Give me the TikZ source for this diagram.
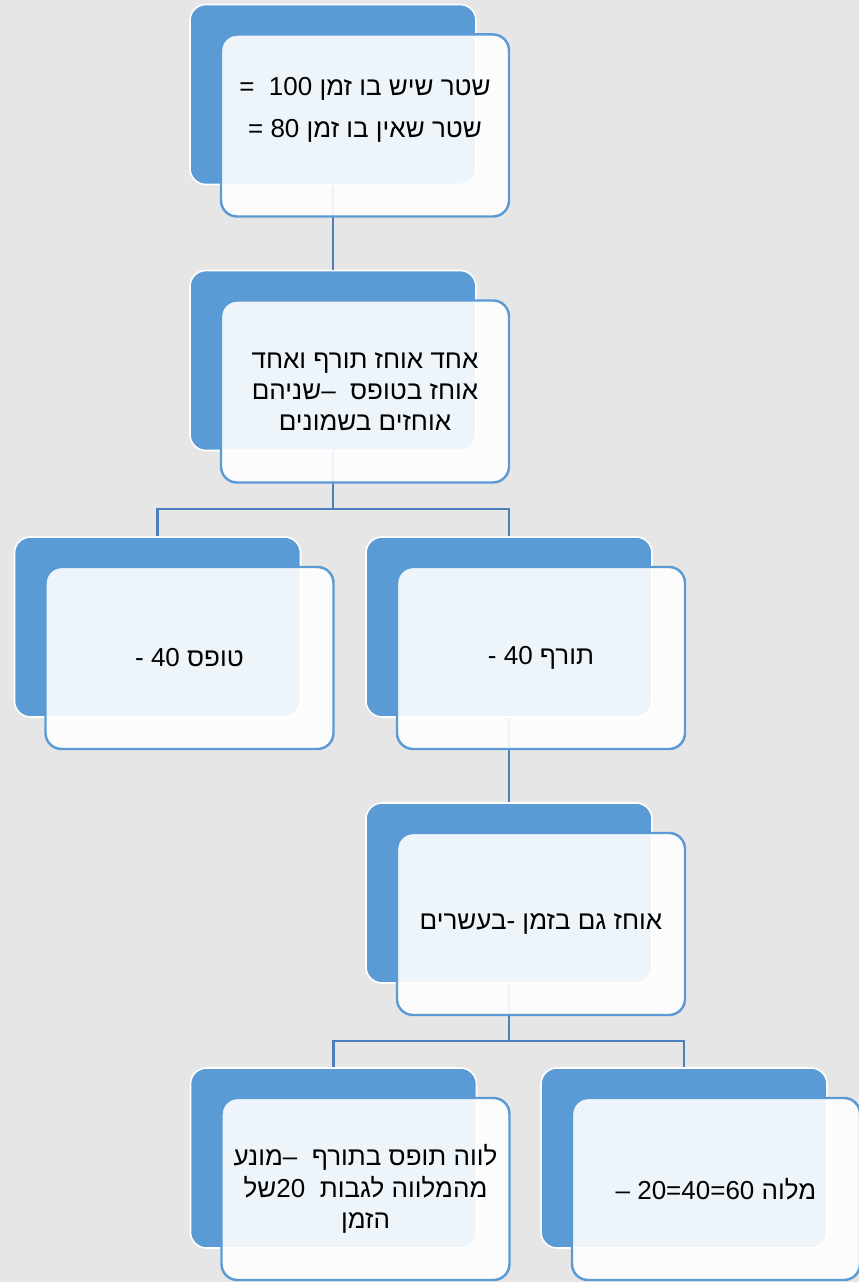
\documentclass[tikz,border=0pt]{standalone}
\usepackage{fontspec}
\newfontfamily\hebfont[Script=Hebrew]{Liberation Sans}
\TeXXeTstate=1
\usetikzlibrary{calc,positioning}
\definecolor{bgGray}{RGB}{231,230,230}
\definecolor{boxBlue}{RGB}{91,155,213}
\definecolor{lineBlue}{RGB}{76,127,187}
\tikzstyle{backbox} = [rectangle, rounded corners=0.32cm, minimum width=5.72cm,
minimum height=3.6cm, fill=boxBlue, draw=white, line width=0.9pt]
\tikzstyle{frontbox} = [rectangle, rounded corners=0.32cm, minimum width=5.76cm,
minimum height=3.64cm, fill=white, fill opacity=0.9, text opacity=1,
draw=boxBlue, line width=1.4pt, align=center,
font=\hebfont\fontsize{14.8}{17.8}\selectfont]
\tikzstyle{conn} = [line width=1.5pt, draw=lineBlue]

\begin{document}
\begin{tikzpicture}
            \fill[bgGray] (0,0) rectangle (17.18,25.64);
            \useasboundingbox (0,0) rectangle (17.18,25.64);
            % back boxes
            \node[backbox] (b1) at (6.66,23.75) {};
            \node[backbox] (b2) at (6.66,18.43) {};
            \node[backbox] (b3l) at (3.15,13.10) {};
            \node[backbox] (b3r) at (10.18,13.10) {};
            \node[backbox] (b4) at (10.18,7.78) {};
            \node[backbox] (b5l) at (6.67,2.48) {};
            \node[backbox] (b5r) at (13.68,2.48) {};
            % connectors
            \coordinate (j1) at (6.66,15.46);
            \coordinate (j2) at (10.18,4.82);
            \draw[conn] (b1.south) -- (b2.north);
            \draw[conn] (b2.south) -- (j1);
            \draw[conn] (j1) -| (b3l.north);
            \draw[conn] (j1) -| (b3r.north);
            \draw[conn] (b3r.south) -- (b4.north);
            \draw[conn] (b4.south) -- (j2);
            \draw[conn] (j2) -| (b5l.north);
            \draw[conn] (j2) -| (b5r.north);
            % front boxes
            \node[frontbox] (f1) at ($(b1)+(0.64,-0.62)$)
            {\beginR שטר שיש בו זמן 100\ \ =\endR\\[0.22cm]
             \beginR שטר שאין בו זמן 80 =\endR\\[-0.1cm] \strut};
            \node[frontbox] (f2) at ($(b2)+(0.64,-0.62)$)
            {\beginR אחד אוחז תורף ואחד\endR\\
             \beginR אוחז בטופס\ \ –שניהם\endR\\
             \beginR אוחזים בשמונים\endR};
            \node[frontbox] (f3l) at ($(b3l)+(0.64,-0.62)$)
            {\beginR טופס 40 -\endR};
            \node[frontbox] (f3r) at ($(b3r)+(0.64,-0.62)$)
            {\beginR תורף 40 -\endR};
            \node[frontbox] (f4) at ($(b4)+(0.64,-0.62)$)
            {\beginR אוחז גם בזמן -בעשרים\endR};
            \node[frontbox] (f5l) at ($(b5l)+(0.64,-0.62)$)
            {\beginR לווה תופס בתורף\ \ –מונע\endR\\
             \beginR מהמלווה לגבות\ \ 20של\endR\\
             \beginR הזמן\endR};
            \node[frontbox] (f5r) at ($(b5r)+(0.64,-0.62)$)
            {\beginR מלוה \beginL 60=40=20\endL{} –\endR};
\end{tikzpicture}
\end{document}
